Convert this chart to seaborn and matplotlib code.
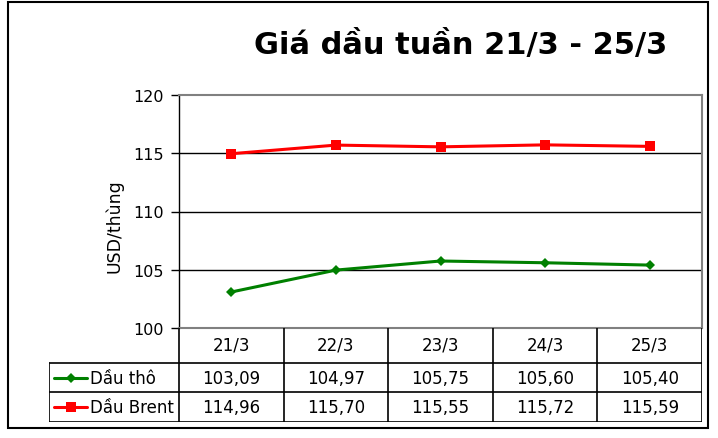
"""Giá dầu tuần 21/3 - 25/3: line chart with an Excel-style data table."""

import matplotlib
matplotlib.use("Agg")
import matplotlib.pyplot as plt
from matplotlib.lines import Line2D
from matplotlib.patches import Rectangle
import seaborn as sns
import pandas as pd

days = ["21/3", "22/3", "23/3", "24/3", "25/3"]
crude = [103.09, 104.97, 105.75, 105.60, 105.40]
brent = [114.96, 115.70, 115.55, 115.72, 115.59]
series_names = ["Dầu thô", "Dầu Brent"]
y_ticks = [100, 105, 110, 115, 120]

colors = {"Dầu thô": "#008000", "Dầu Brent": "#FF0000"}
markers = {"Dầu thô": "D", "Dầu Brent": "s"}
msizes = {"Dầu thô": 5, "Dầu Brent": 7}

df = pd.DataFrame({
    "day": days * 2,
    "price": crude + brent,
    "series": [series_names[0]] * len(days) + [series_names[1]] * len(days),
})
df["pos"] = df["day"].map({d: i for i, d in enumerate(days)})

sns.set_theme(style="white")
plt.rcParams["font.family"] = ["DejaVu Sans"]
plt.rcParams["text.color"] = "black"
plt.rcParams["axes.labelcolor"] = "black"
plt.rcParams["ytick.color"] = "black"

W, H = 718, 439
fig = plt.figure(figsize=(W / 100, H / 100), dpi=100)

def fx(px):
    return px / W

def fy(py):
    return 1 - py / H

# outer chart border
fig.add_artist(Rectangle((fx(8), fy(429)), fx(708) - fx(8), fy(3) - fy(429),
                         transform=fig.transFigure, fill=False, edgecolor="black", linewidth=1.5))

ax_l, ax_r, ax_t, ax_b = 179, 702, 96, 329
ax = fig.add_axes([fx(ax_l), fy(ax_b), fx(ax_r) - fx(ax_l), fy(ax_t) - fy(ax_b)])

for name in series_names:
    sub = df[df["series"] == name]
    sns.lineplot(data=sub, x="pos", y="price", ax=ax, color=colors[name], linewidth=2.2,
                 marker=markers[name], markersize=msizes[name], markeredgewidth=0,
                 sort=False, legend=False)

ax.set_xlim(-0.5, len(days) - 0.5)
ax.set_ylim(100, 120)
ax.set_yticks(y_ticks)
ax.set_yticklabels([str(t) for t in y_ticks], fontsize=11.5, color="black")
ax.set_xticks([])
ax.set_xlabel("")
ax.set_ylabel("USD/thùng", fontsize=12.5, color="black")
ax.yaxis.set_label_coords(-0.107, 0.44)
ax.tick_params(axis="y", direction="out", length=6, width=1, color="black", pad=5, left=True)
for t in y_ticks[1:-1]:
    ax.axhline(t, color="black", linewidth=1.0, zorder=0)
ax.spines["left"].set_color("black")
ax.spines["left"].set_linewidth(1.0)
for s in ["top", "right", "bottom"]:
    ax.spines[s].set_color("#808080")
    ax.spines[s].set_linewidth(1.5)

# data table below the plot, same column spacing as the category axis
tab_l, tab_b = 49, 423
unit = (ax_r - ax_l) / len(days)
tax = fig.add_axes([fx(tab_l), fy(tab_b), fx(ax_r) - fx(tab_l), fy(ax_b) - fy(tab_b)])
x0 = -0.5 - (ax_l - tab_l) / unit
tax.set_xlim(x0, len(days) - 0.5)
row_edges = [0, 30, 59, 94]  # px from table bottom
tax.set_ylim(0, row_edges[-1])
tax.axis("off")

lw = 1.2
# horizontal lines
for yy in row_edges[:3]:
    tax.plot([x0, len(days) - 0.5], [yy, yy], color="black", lw=lw)
# vertical lines
tax.plot([x0, x0], [row_edges[0], row_edges[2]], color="black", lw=lw)
for i in range(len(days) + 1):
    tax.plot([i - 0.5, i - 0.5], [row_edges[0], row_edges[3]], color="black", lw=lw)

for i, d in enumerate(days):
    tax.text(i, (row_edges[2] + row_edges[3]) / 2 + 1, d, ha="center", va="center", fontsize=12)

rows = [(series_names[0], crude, (row_edges[1] + row_edges[2]) / 2),
        (series_names[1], brent, (row_edges[0] + row_edges[1]) / 2)]
for name, vals, yc in rows:
    for i, v in enumerate(vals):
        tax.text(i, yc, f"{v:.2f}".replace(".", ","), ha="center", va="center", fontsize=12)
    kx0 = x0 + 5 / unit
    kx1 = x0 + 38 / unit
    tax.add_line(Line2D([kx0, kx1], [yc, yc], color=colors[name], lw=2.2))
    tax.add_line(Line2D([(kx0 + kx1) / 2], [yc], color=colors[name], marker=markers[name],
                        markersize=msizes[name], markeredgewidth=0))
    tax.text(x0 + 41 / unit, yc, name, ha="left", va="center", fontsize=12)

fig.text(fx(461), fy(45), "Giá dầu tuần 21/3 - 25/3", ha="center", va="center",
         fontsize=22, fontweight="bold", color="black")

fig.savefig("out.png", dpi=100)
